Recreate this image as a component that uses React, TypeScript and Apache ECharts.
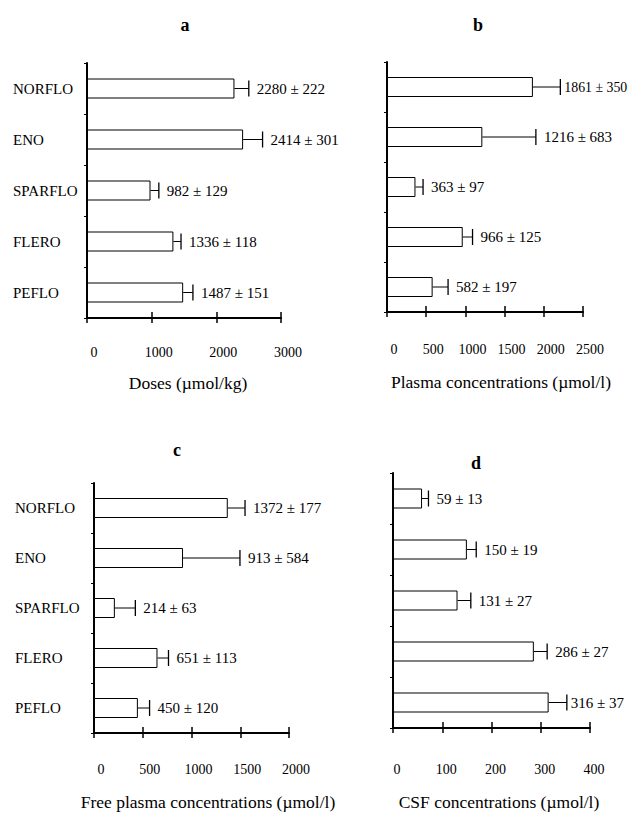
import React, { useEffect, useRef } from 'react';
import * as echarts from 'echarts';

const categories = ['NORFLO', 'ENO', 'SPARFLO', 'FLERO', 'PEFLO'];

// a: Doses (µmol/kg)
const doseMeans = [2280, 2414, 982, 1336, 1487];
const doseSds = [222, 301, 129, 118, 151];
const doseTicks = [0, 1000, 2000, 3000];

// b: Plasma concentrations (µmol/l)
const plasmaMeans = [1861, 1216, 363, 966, 582];
const plasmaSds = [350, 683, 97, 125, 197];
const plasmaTicks = [0, 500, 1000, 1500, 2000, 2500];

// c: Free plasma concentrations (µmol/l)
const freeMeans = [1372, 913, 214, 651, 450];
const freeSds = [177, 584, 63, 113, 120];
// error-bar lengths as drawn in panel c (SPARFLO's bar is drawn longer than its label)
const freeDrawnErr = [177, 584, 210, 113, 120];
const freeTicks = [0, 500, 1000, 1500, 2000];

// d: CSF concentrations (µmol/l)
const csfMeans = [59, 150, 131, 286, 316];
const csfSds = [13, 19, 27, 27, 37];
const csfTicks = [0, 100, 200, 300, 400];

const FONT = 'Liberation Serif, Times New Roman, serif';

type Panel = {
  title: string;
  name: string;
  means: number[];
  sds: number[];
  err: number[];
  ticks: number[];
  grid: { left: number; top: number; width: number; height: number };
  showCats: boolean;
  catMargin: number;
  tickMargin: number;
  tickShift: number;
  titlePos: [number, number];
  namePos: [number, number];
};

const panels: Panel[] = [
  {
    title: 'a', name: 'Doses (\u00b5mol/kg)', means: doseMeans, sds: doseSds, err: doseSds, ticks: doseTicks,
    grid: { left: 87, top: 63, width: 194, height: 255 }, showCats: true, catMargin: 74,
    tickMargin: 27, tickShift: 14, titlePos: [185, 25], namePos: [188, 383],
  },
  {
    title: 'b', name: 'Plasma concentrations (\u00b5mol/l)', means: plasmaMeans, sds: plasmaSds, err: plasmaSds, ticks: plasmaTicks,
    grid: { left: 387, top: 62, width: 196, height: 250 }, showCats: false, catMargin: 0,
    tickMargin: 30, tickShift: 14, titlePos: [478, 25], namePos: [501, 382],
  },
  {
    title: 'c', name: 'Free plasma concentrations (\u00b5mol/l)', means: freeMeans, sds: freeSds, err: freeDrawnErr, ticks: freeTicks,
    grid: { left: 94, top: 483, width: 195, height: 250 }, showCats: true, catMargin: 79,
    tickMargin: 29, tickShift: 14, titlePos: [177, 450], namePos: [208, 802],
  },
  {
    title: 'd', name: 'CSF concentrations (\u00b5mol/l)', means: csfMeans, sds: csfSds, err: csfSds, ticks: csfTicks,
    grid: { left: 393, top: 473, width: 197, height: 255 }, showCats: false, catMargin: 0,
    tickMargin: 34, tickShift: 8, titlePos: [476, 463], namePos: [499, 802],
  },
];

function buildOption() {
  const grid: any[] = [];
  const xAxis: any[] = [];
  const yAxis: any[] = [];
  const series: any[] = [];
  const graphic: any[] = [];

  panels.forEach((p, k) => {
    grid.push({ ...p.grid, containLabel: false });
    const min = p.ticks[0];
    const max = p.ticks[p.ticks.length - 1];
    const interval = p.ticks[1] - p.ticks[0];
    // main value axis: line, labels, outward ticks
    xAxis.push({
      type: 'value', gridIndex: k, position: 'bottom', min, max, interval,
      axisLine: { show: true, lineStyle: { color: '#000', width: 2 } },
      axisTick: { show: true, inside: false, length: 5, lineStyle: { color: '#000', width: 1.5 } },
      axisLabel: {
        show: true, margin: p.tickMargin, color: '#000', fontFamily: FONT, fontSize: 14,
        padding: [0, 0, 0, p.tickShift],
        formatter: (v: number) => String(v),
      },
      splitLine: { show: false },
    });
    // twin axis: inward part of the crossing ticks
    xAxis.push({
      type: 'value', gridIndex: k, position: 'bottom', min, max, interval,
      axisLine: { show: false },
      axisTick: { show: true, inside: true, length: 6, lineStyle: { color: '#000', width: 1.5 } },
      axisLabel: { show: false },
      splitLine: { show: false },
    });
    yAxis.push({
      type: 'category', gridIndex: k, data: categories, inverse: true,
      axisLine: { show: true, lineStyle: { color: '#000', width: 2 } },
      axisTick: { show: true, length: 3, lineStyle: { color: '#000', width: 1 } },
      axisLabel: {
        show: p.showCats, align: 'left', margin: p.catMargin, color: '#000',
        fontFamily: FONT, fontSize: 15,
      },
      splitLine: { show: false },
    });

    series.push({
      type: 'bar', xAxisIndex: 2 * k, yAxisIndex: k, data: p.means, barWidth: 20,
      itemStyle: { color: '#fff', borderColor: '#000', borderWidth: 1 },
      silent: true, z: 2,
    });

    const means = p.means;
    const sds = p.sds;
    const err = p.err;
    series.push({
      type: 'custom', xAxisIndex: 2 * k, yAxisIndex: k,
      data: means.map((m, i) => [m, i]),
      encode: { x: 0, y: 1 },
      silent: true, z: 3,
      renderItem: (params: any, api: any) => {
        const i = params.dataIndex;
        const s = api.coord([means[i], i]);
        const e = api.coord([means[i] + err[i], i]);
        const h = 16;
        const text = `${means[i]} \u00b1 ${sds[i]}`;
        const approxEm = text.length * 0.46;
        let x = e[0] + 8;
        let avail = api.getWidth() - x - 2;
        if (avail < approxEm * 15) {
          // tighten the gap first, then shrink so the label stays whole
          x = e[0] + 4;
          avail = api.getWidth() - x - 2;
        }
        const fs = Math.min(15, avail / approxEm);
        return {
          type: 'group',
          children: [
            { type: 'line', shape: { x1: s[0], y1: s[1], x2: e[0], y2: e[1] }, style: { stroke: '#000', lineWidth: 1 } },
            { type: 'line', shape: { x1: e[0], y1: e[1] - h / 2, x2: e[0], y2: e[1] + h / 2 }, style: { stroke: '#000', lineWidth: 1.3 } },
            {
              type: 'text', x, y: e[1],
              style: {
                text, fill: '#000', fontFamily: FONT, fontSize: fs,
                align: 'left', verticalAlign: 'middle',
              },
            },
          ],
        };
      },
    });

    graphic.push({
      type: 'text', x: p.titlePos[0], y: p.titlePos[1],
      style: { text: p.title, fill: '#000', fontFamily: FONT, fontSize: 18, fontWeight: 'bold', align: 'center', verticalAlign: 'middle' },
    });
    graphic.push({
      type: 'text', x: p.namePos[0], y: p.namePos[1],
      style: { text: p.name, fill: '#000', fontFamily: FONT, fontSize: 17.5, align: 'center', verticalAlign: 'middle' },
    });
  });

  return {
    animation: false,
    backgroundColor: '#fff',
    grid, xAxis, yAxis, series, graphic,
  };
}

export default function App() {
  const ref = useRef<HTMLDivElement>(null);
  useEffect(() => {
    if (!ref.current) return;
    const chart = echarts.init(ref.current, undefined, { renderer: 'svg' });
    chart.setOption(buildOption() as any);
    return () => chart.dispose();
  }, []);
  return (
    <div
      ref={ref}
      style={{ position: 'absolute', left: 0, top: 0, width: 630, height: 819, background: '#fff' }}
    />
  );
}
